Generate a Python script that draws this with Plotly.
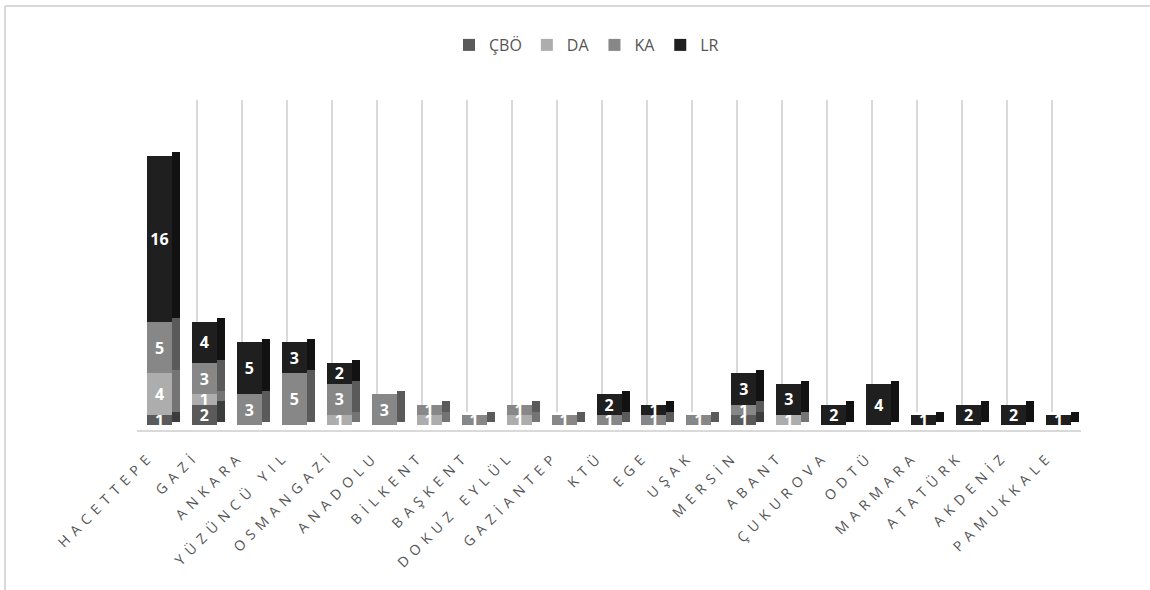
import plotly.graph_objects as go

# ---------------- data ----------------
universities = ["HACETTEPE", "GAZİ", "ANKARA", "YÜZÜNCÜ YIL", "OSMANGAZİ", "ANADOLU",
                "BİLKENT", "BAŞKENT", "DOKUZ EYLÜL", "GAZİANTEP", "KTÜ", "EGE", "UŞAK",
                "MERSİN", "ABANT", "ÇUKUROVA", "ODTÜ", "MARMARA", "ATATÜRK", "AKDENİZ",
                "PAMUKKALE"]
N = None
cbo = [1, 2, N, N, N, N, N, N, N, N, N, N, N, 1, N, N, N, N, N, N, N]
da  = [4, 1, N, N, 1, N, 1, N, 1, N, N, N, N, N, 1, N, N, N, N, N, N]
ka  = [5, 3, 3, 5, 3, 3, 1, 1, 1, 1, 1, 1, 1, 1, N, N, N, N, N, N, N]
lr  = [16, 4, 5, 3, 2, N, N, N, N, N, 2, 1, N, 3, 3, 2, 4, 1, 2, 2, 1]

series_names = ["ÇBÖ", "DA", "KA", "LR"]
series_values = [cbo, da, ka, lr]
front_colors = ["#5a5a5a", "#adadad", "#878787", "#1f1f1f"]
side_colors = ["#3c3c3c", "#747474", "#5a5a5a", "#121212"]

# ---------------- layout geometry ----------------
W, H = 1150, 590
L, R, T, B = 130, 40, 100, 160
LABEL_SHIFT = 0.2          # tick labels sit slightly left of the bar centres
SIDE_OFFSET = 0.278        # side face starts at the right edge of the front face


def px_x(p):
    return (p - L) / (W - L - R)


def px_y(p):
    return (H - B - p) / (H - T - B)


FONT = "Open Sans"
GREY = "#555555"

fig = go.Figure()

# helper (empty) trace so that the back-wall subplot is created
fig.add_trace(go.Scatter(x=[None], y=[None], xaxis="x", yaxis="y", mode="markers",
                         showlegend=False, hoverinfo="skip"))

for name, vals, col in zip(series_names, series_values, front_colors):
    fig.add_trace(go.Bar(
        name=name, x=universities, y=vals,
        xaxis="x2", yaxis="y2",
        width=0.556,
        marker=dict(color=col, line=dict(width=0)),
        texttemplate="%{y}", textposition="inside", insidetextanchor="middle",
        textangle=0, constraintext="none",
        textfont=dict(family=FONT, size=16, color="white", weight=700),
        hovertemplate="%{x}<br>" + name + ": %{y}<extra></extra>",
    ))

for name, vals, col in zip(series_names, series_values, side_colors):
    fig.add_trace(go.Bar(
        name=name, x=universities, y=vals,
        xaxis="x3", yaxis="y3",
        width=0.178, offset=SIDE_OFFSET + LABEL_SHIFT,
        marker=dict(color=col, line=dict(width=0)),
        showlegend=False, hoverinfo="skip",
    ))

tick_text = ['<span style="letter-spacing:6px">%s</span>' % u for u in universities]

fig.update_layout(
    template="none",
    width=W, height=H,
    margin=dict(l=L, r=R, t=T, b=B, pad=0),
    paper_bgcolor="white", plot_bgcolor="rgba(0,0,0,0)",
    barmode="stack",
    showlegend=True,
    legend=dict(orientation="h", xref="container", yref="container",
                x=0.51, xanchor="center", y=1 - 45 / H, yanchor="middle",
                font=dict(family=FONT, size=16, color=GREY),
                traceorder="normal", bgcolor="rgba(0,0,0,0)"),
    # back wall gridlines
    xaxis=dict(domain=[px_x(152), px_x(1097)], anchor="y", range=[0, 21],
               tick0=0, dtick=1, showgrid=True, gridcolor="#d9d9d9", gridwidth=1.5,
               showticklabels=False, ticks="", zeroline=False, showline=False,
               automargin=False, fixedrange=True),
    yaxis=dict(domain=[px_y(412), 1], anchor="x", range=[0, 1],
               showgrid=False, zeroline=False, showline=False, showticklabels=False,
               ticks="", automargin=False, fixedrange=True),
    # bars (front faces) + floor edge
    xaxis2=dict(domain=[px_x(137), px_x(1081)], anchor="y2", type="category",
                categoryorder="array", categoryarray=universities,
                range=[-0.5, 20.5], showgrid=False, zeroline=False,
                showline=True, linecolor="#d9d9d9", linewidth=2,
                ticks="", showticklabels=False,
                automargin=False, fixedrange=True),
    yaxis2=dict(domain=[0, 1], anchor="x2", range=[-0.45, 31.35], visible=False,
                showgrid=False, zeroline=False, automargin=False, fixedrange=True),
    # side faces (overlay) + category labels
    xaxis3=dict(overlaying="x2", anchor="y3", type="category",
                categoryorder="array", categoryarray=universities,
                tickmode="array", tickvals=universities, ticktext=tick_text,
                range=[-0.5 + LABEL_SHIFT, 20.5 + LABEL_SHIFT],
                showgrid=False, zeroline=False, showline=False,
                ticks="", tickangle=-45, ticklabelstandoff=14,
                tickfont=dict(family=FONT, size=14, color=GREY),
                automargin=False, fixedrange=True),
    yaxis3=dict(overlaying="y2", anchor="x3", range=[-0.75, 31.05], visible=False,
                automargin=False, fixedrange=True),
    shapes=[
        dict(type="line", xref="paper", yref="paper", layer="below",
             x0=px_x(5), x1=px_x(1152), y0=px_y(6), y1=px_y(6),
             line=dict(color="#d9d9d9", width=2)),
        dict(type="line", xref="paper", yref="paper", layer="below",
             x0=px_x(5), x1=px_x(5), y0=px_y(6), y1=px_y(592),
             line=dict(color="#d9d9d9", width=2)),
    ],
)

fig.write_html("out.html")
